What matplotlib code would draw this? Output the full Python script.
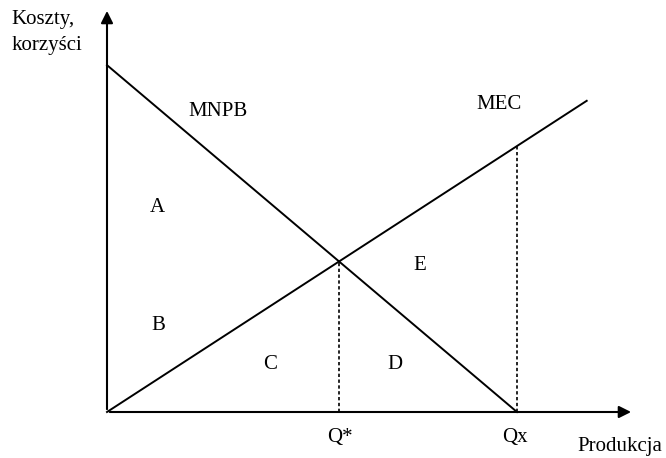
import matplotlib.pyplot as plt

plt.rcParams['font.family'] = ['Liberation Serif', 'DejaVu Serif']

# Marginal net private benefit (falling) and marginal external cost (rising)
mnpb_x = [0.0, 10.0]
mnpb_y = [8.46, 0.0]
mec_x = [0.0, 11.7]
mec_y = [0.0, 7.59]

# Area labels and their positions
area_labels = ['A', 'B', 'C', 'D', 'E']
area_x = [1.22, 1.24, 3.98, 7.02, 7.63]
area_y = [5.0, 2.1, 1.17, 1.17, 3.58]

# pixel scale of one data unit, origin placement in the figure
S = 41.0
W, H = 666, 458
ox, oy = 107, 412

fig = plt.figure(figsize=(W / 100, H / 100), dpi=100)
ax = fig.add_axes([0, 0, 1, 1])
ax.set_xlim(-ox / S, (W - ox) / S)
ax.set_ylim(-(H - oy) / S, oy / S)
ax.axis('off')

# axes with arrow heads
ax.annotate('', xy=(12.85, 0), xytext=(0, 0),
            arrowprops=dict(arrowstyle='-|>', color='black', lw=1.5, mutation_scale=18))
ax.annotate('', xy=(0, 9.85), xytext=(0, 0),
            arrowprops=dict(arrowstyle='-|>', color='black', lw=1.5, mutation_scale=18))

ax.plot(mnpb_x, mnpb_y, color='black', lw=1.4)
ax.plot(mec_x, mec_y, color='black', lw=1.4)

# intersection Q* and value of MEC at Qx
a1 = (mnpb_y[1] - mnpb_y[0]) / (mnpb_x[1] - mnpb_x[0])
a2 = (mec_y[1] - mec_y[0]) / (mec_x[1] - mec_x[0])
q_star = mnpb_y[0] / (a2 - a1)
qx = mnpb_x[1]
ax.plot([q_star, q_star], [0, a2 * q_star], color='black', lw=1.2, ls=(0, (2, 1.5)))
ax.plot([qx, qx], [0, a2 * qx], color='black', lw=1.2, ls=(0, (2, 1.5)))

fs = 15
for lab, x, y in zip(area_labels, area_x, area_y):
    ax.text(x, y, lab, fontsize=fs, ha='center', va='center')

ax.text(2.71, 7.32, 'MNPB', fontsize=fs, ha='center', va='center')
ax.text(9.56, 7.51, 'MEC', fontsize=fs, ha='center', va='center')
ax.text(q_star + 0.02, -0.63, 'Q*', fontsize=fs, ha='center', va='center')
ax.text(qx - 0.05, -0.63, 'Qx', fontsize=fs, ha='center', va='center')
ax.text(12.5, -0.83, 'Produkcja', fontsize=fs, ha='center', va='center')
ax.text(-2.33, 9.57, 'Koszty,', fontsize=fs, ha='left', va='center')
ax.text(-2.33, 8.95, 'korzyści', fontsize=fs, ha='left', va='center')

fig.savefig('out.png', dpi=100, facecolor='white')
